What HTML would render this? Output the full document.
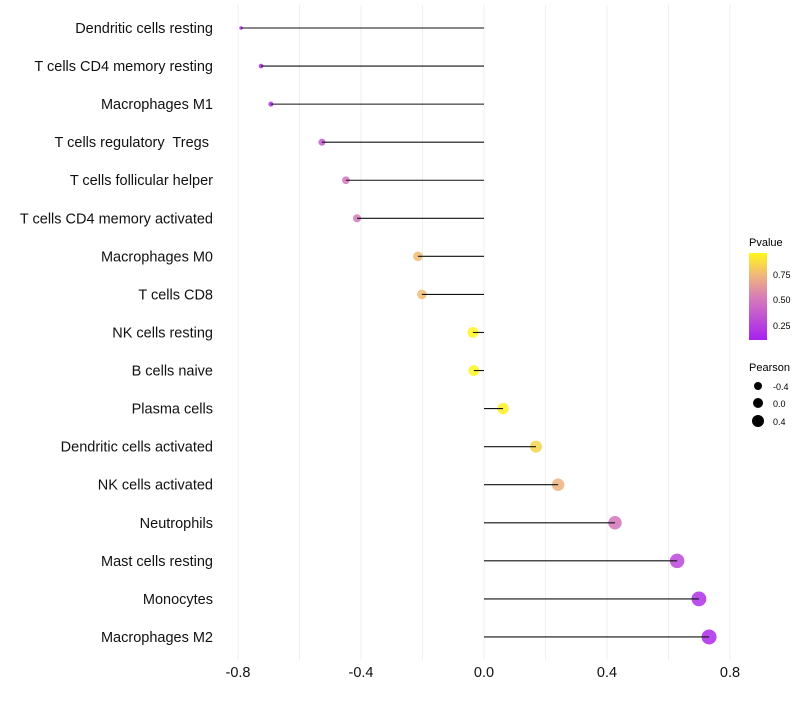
<!DOCTYPE html>
<html><head><meta charset="utf-8"><style>
body{margin:0;background:#fff;font-family:"Liberation Sans",sans-serif}
svg text{font-family:"Liberation Sans",sans-serif;white-space:pre}
</style></head><body>
<svg id="chart" width="800" height="700">
<defs><linearGradient id="pg" x1="0" y1="1" x2="0" y2="0">
<stop offset="0" stop-color="#a621f0"/><stop offset="0.5" stop-color="#d77fb6"/><stop offset="0.75" stop-color="#f0b878"/><stop offset="1" stop-color="#fff71a"/></linearGradient></defs>
<g id="grid"></g><g id="points"></g><g id="stems"></g><g id="ylabels"></g><g id="xlabels"></g>
<g>
<text x="749" y="246" font-size="11" fill="#000">Pvalue</text>
<rect x="749" y="253" width="18" height="87" fill="url(#pg)"/>
<text x="773" y="278" font-size="9">0.75</text>
<text x="773" y="303" font-size="9">0.50</text>
<text x="773" y="329" font-size="9">0.25</text>
</g>
<g>
<text x="749" y="371" font-size="11">Pearson</text>
<circle cx="758" cy="386" r="4"/><text x="773" y="390" font-size="9">-0.4</text>
<circle cx="758" cy="403" r="5"/><text x="773" y="407" font-size="9">0.0</text>
<circle cx="758" cy="421" r="6"/><text x="773" y="425" font-size="9">0.4</text>
</g>
</svg>
<script>
const categories=["Dendritic cells resting","T cells CD4 memory resting","Macrophages M1","T cells regulatory  Tregs ","T cells follicular helper","T cells CD4 memory activated","Macrophages M0","T cells CD8","NK cells resting","B cells naive","Plasma cells","Dendritic cells activated","NK cells activated","Neutrophils","Mast cells resting","Monocytes","Macrophages M2"];
const pearson=[-0.79,-0.725,-0.693,-0.527,-0.449,-0.413,-0.215,-0.202,-0.036,-0.033,0.062,0.169,0.241,0.426,0.628,0.699,0.732];
const pvalues=[0.03,0.08,0.1,0.3,0.45,0.47,0.76,0.77,0.99,0.99,0.97,0.86,0.72,0.45,0.2,0.08,0.05];
const xTicks=[-0.8,-0.4,0,0.4,0.8];
const xTickLabels=["-0.8","-0.4","0.0","0.4","0.8"];
const gridVals=[-0.8,-0.6,-0.4,-0.2,0,0.2,0.4,0.6,0.8];
const NS="http://www.w3.org/2000/svg";
const x=v=>484+v*307.5;
const y=i=>28+i*38.06;
const rad=v=>Math.sqrt(Math.max(3,3.2+34.7*(v+0.79)));
function mk(t,a,p){const e=document.createElementNS(NS,t);for(const k in a)e.setAttribute(k,a[k]);p.appendChild(e);return e;}
const stops=[[0,[166,33,240]],[0.5,[215,127,182]],[0.75,[240,184,120]],[1,[255,247,26]]];
function col(p){let k=0;while(k<stops.length-2&&p>stops[k+1][0])k++;const a=stops[k],b=stops[k+1];
 const t=Math.min(1,Math.max(0,(p-a[0])/(b[0]-a[0])));
 const c=a[1].map((v,i)=>Math.round(v+(b[1][i]-v)*t));return `rgb(${c})`;}
const grid=document.getElementById('grid'),pts=document.getElementById('points'),stems=document.getElementById('stems'),yl=document.getElementById('ylabels'),xl=document.getElementById('xlabels');
gridVals.forEach(v=>{const l=mk('line',{x1:x(v),x2:x(v),y1:5,y2:660,stroke:'#efefef','stroke-width':1},grid);

});
categories.forEach((c,i)=>{
 const t=mk('text',{x:213,y:y(i)+5,'text-anchor':'end','font-size':14.5,fill:'#111'},yl);t.textContent=c;
 
 
 const d=mk('circle',{cx:x(pearson[i]),cy:y(i),r:rad(pearson[i]),fill:col(pvalues[i]),'fill-opacity':0.85},pts);
 
 
 const ln=mk('line',{x1:x(0),x2:x(pearson[i]),y1:y(i),y2:y(i),stroke:'#111','stroke-width':1.1},stems);
 
 
});
xTicks.forEach((v,i)=>{const t=mk('text',{x:x(v),y:677,'text-anchor':'middle','font-size':14.5,fill:'#111'},xl);t.textContent=xTickLabels[i];
 
 });
</script>
</body></html>
